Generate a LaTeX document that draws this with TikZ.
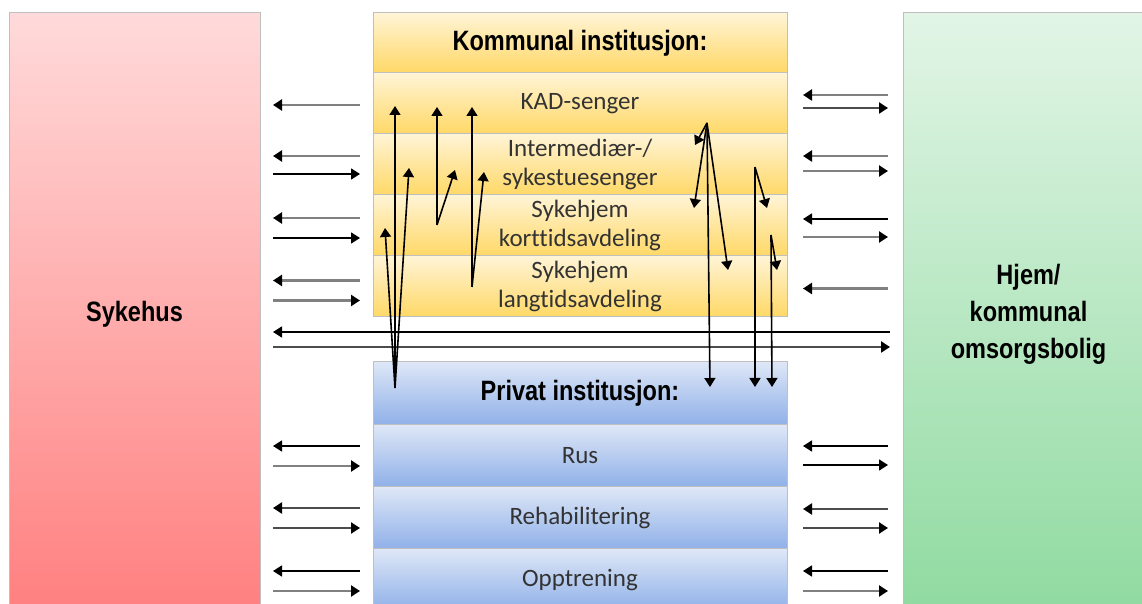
\documentclass[tikz,border=0pt]{standalone}
\usepackage{fontspec}
\setmainfont{Carlito}[Ligatures={NoCommon,NoContextual,NoRare}]
\newfontfamily\headfont[FakeStretch=0.84]{Liberation Sans}
\usetikzlibrary{arrows.meta,positioning,calc}

\definecolor{ylwtop}{HTML}{FFF4D6}
\definecolor{ylwbot}{HTML}{FFD866}
\definecolor{blutop}{HTML}{DEE7F7}
\definecolor{blubot}{HTML}{8FB0E8}
\definecolor{redtop}{HTML}{FFDADA}
\definecolor{redbot}{HTML}{FF7F7F}
\definecolor{grntop}{HTML}{E2F5E6}
\definecolor{grnbot}{HTML}{8FDAA0}

\begin{document}
\begin{tikzpicture}[x=0.5pt, y=-0.5pt,
    every node/.style={rectangle, draw=black!25, line width=0.5pt, inner sep=0pt, outer sep=0pt, align=center},
    side/.style={minimum width=125.5pt, minimum height=301pt, font=\headfont\bfseries\fontsize{14}{18.5}\selectfont},
    kom/.style={minimum width=207pt, minimum height=30.5pt, top color=ylwtop, bottom color=ylwbot},
    priv/.style={minimum width=207pt, minimum height=31pt, top color=blutop, bottom color=blubot},
    head/.style={font=\headfont\bfseries\fontsize{14}{17}\selectfont},
    sub/.style={text=black!80, font=\fontsize{12.5}{14.5}\selectfont},
    flow/.style={line width=0.8pt, -{Triangle[width=5.5pt,length=4.5pt]}},
    flowdark/.style={flow, draw=black!70, line width=1.1pt, -{Triangle[width=5.5pt,length=4.5pt,color=black]}},
    flowgrey/.style={flow, draw=black!50, line width=1.4pt, -{Triangle[width=5.5pt,length=4.5pt,color=black]}}]

\useasboundingbox (0,0) rectangle (1142,604);

% outer boxes
\node[side, top color=redtop, bottom color=redbot, anchor=north west] (sykehus) at (9,13) {Sykehus};
\node[side, top color=grntop, bottom color=grnbot, anchor=north west] (hjem) at (903,13) {Hjem/\\kommunal\\omsorgsbolig};

% kommunal institusjon
\node[kom, head, minimum height=30pt, anchor=north west] (kom) at (373,13) {Kommunal institusjon:};
\node[kom, sub, below=0pt of kom] (kad) {KAD-senger};
\node[kom, sub, below=0pt of kad] (inter) {Intermediær-/\\sykestuesenger};
\node[kom, sub, below=0pt of inter] (kort) {Sykehjem\\korttidsavdeling};
\node[kom, sub, below=0pt of kort] (lang) {Sykehjem\\langtidsavdeling};

% privat institusjon
\node[priv, head, minimum height=31.5pt, anchor=north west] (priv) at (373,362) {Privat institusjon:};
\node[priv, sub, below=0pt of priv] (rus) {Rus};
\node[priv, sub, below=0pt of rus] (rehab) {Rehabilitering};
\node[priv, sub, below=0pt of rehab] (opp) {Opptrening};

% sykehus side
\foreach \r/\d/\s in {kad/1.5/flowgrey, inter/-8.5/flowgrey, kort/-7.5/flowgrey, lang/-6/flowgrey, rus/-10/flow, rehab/-10/flowdark, opp/-9/flow}
  \draw[\s] ($(\r.west)+(-13,\d)$) -- ($(sykehus.east |- \r.west)+(13,\d)$);
\foreach \r/\d/\s in {inter/9.5/flow, kort/12.5/flow, lang/14/flowgrey, rus/10/flowgrey, rehab/10/flowdark, opp/11/flowgrey}
  \draw[\s] ($(sykehus.east |- \r.west)+(13,\d)$) -- ($(\r.west)+(-13,\d)$);

% hjem side
\foreach \r/\d/\s in {kad/-8.5/flowgrey, inter/-8.5/flowgrey, kort/-6.5/flow, lang/2/flowgrey, rus/-10/flow, rehab/-9/flowdark, opp/-9/flow}
  \draw[\s] ($(hjem.west |- \r.east)+(-15,\d)$) -- ($(\r.east)+(16,\d)$);
\foreach \r/\d/\s in {kad/4.5/flowdark, inter/6.5/flowgrey, kort/11.5/flowgrey, rus/9/flow, rehab/10/flowdark, opp/11/flowgrey}
  \draw[\s] ($(\r.east)+(16,\d)$) -- ($(hjem.west |- \r.east)+(-15,\d)$);

% sykehus <-> hjem
\draw[flow] ($(hjem.west |- lang.south)+(-13,15)$) -- ($(sykehus.east |- lang.south)+(13,15)$);
\draw[flowdark] ($(sykehus.east |- lang.south)+(13,30)$) -- ($(hjem.west |- lang.south)+(-13,30)$);

% flows between the institutions
\foreach \n/\x/\y in {a0/395/388, a1/395/106, a2/409/168, a3/385/228,
    b0/437/225, b1/437/107, b2/455/170,
    c0/472/287, c1/472/107, c2/484/172,
    d0/707/123, d1/695/145, d2/694/208, d3/728/270, d4/710/387,
    e0/755/167, e1/767/208, e2/755/387,
    f0/771/235, f1/777/270, f2/772/387}
  \coordinate (\n) at (\x,\y);
\foreach \s/\ends in {a/{1,2,3}, b/{1,2}, c/{1,2}, d/{1,2,3,4}, e/{1,2}, f/{1,2}}
  \foreach \e in \ends
    \draw[flow] (\s0) -- (\s\e);

\end{tikzpicture}
\end{document}
